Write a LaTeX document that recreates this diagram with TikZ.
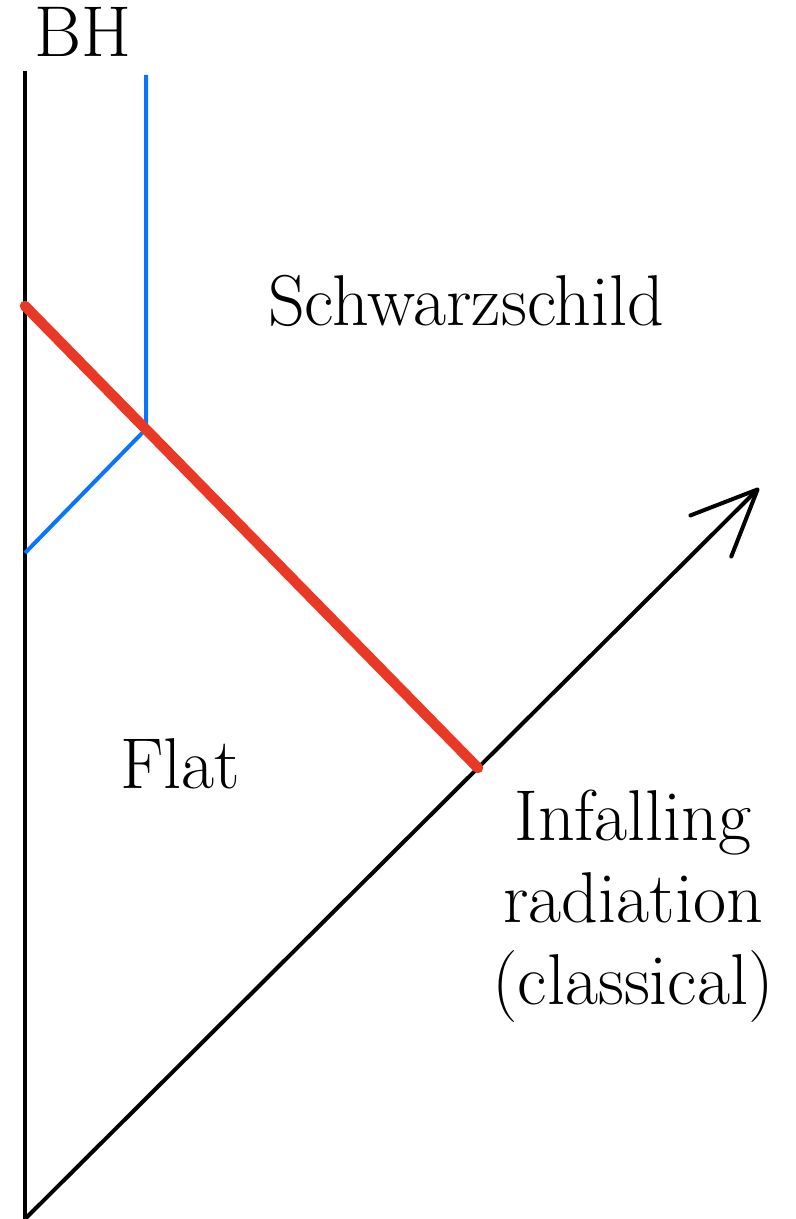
\documentclass[tikz,border=0pt]{standalone}
\usetikzlibrary{arrows.meta}
\definecolor{hred}{RGB}{234,56,38}
\definecolor{hblue}{RGB}{10,116,255}
\begin{document}
\begin{tikzpicture}[x=0.5pt,y=-0.5pt,
  lbl/.style={inner sep=0pt,font=\fontsize{36}{41}\selectfont},
  blk/.style={draw=black,line width=2pt},
  shell/.style={draw=hblue,line width=2pt,line join=round},
  front/.style={draw=hred,line width=5.2pt,line cap=round}]
\useasboundingbox (0,0) rectangle (796,1219);
% points
\coordinate (bhtop) at (25,71);
\coordinate (origin) at (25,1219);
\coordinate (tip) at (759,488);
\coordinate (redA) at (25,306);
\coordinate (redB) at (478,768);
\coordinate (btop) at (146,75);
\coordinate (bcorner) at (146,429);
\coordinate (bleft) at (25,553);
% lines
\draw[blk] (bhtop) -- (origin);
\draw[blk,-{Straight Barb[length=33pt,width=29pt,round]}] (origin) -- (tip);
\draw[shell] (btop) -- (bcorner) -- (bleft);
\draw[front] (redA) -- (redB);
% labels
\node[lbl,anchor=base] (bh) at (83,57) {BH};
\node[lbl,anchor=base] (schw) at (466,326) {Schwarzschild};
\node[lbl,anchor=base] (flat) at (180,788) {Flat};
\node[lbl,anchor=north,align=center] (rad) at (633,790) {Infalling\\radiation\\(classical)};
\end{tikzpicture}
\end{document}
